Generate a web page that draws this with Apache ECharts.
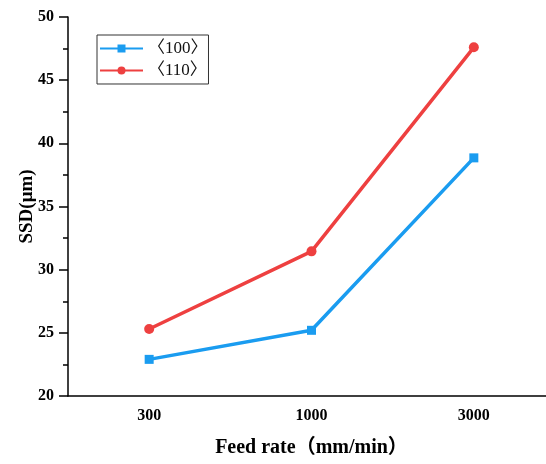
<!DOCTYPE html>
<html>
<head>
<meta charset="utf-8">
<script src="https://cdn.jsdelivr.net/npm/echarts@6/dist/echarts.min.js"></script>
<style>
  html, body { margin: 0; padding: 0; background: #fff; }
  #chart { width: 546px; height: 464px; }
</style>
</head>
<body>
<div id="chart"></div>
<script>
// 数据
const feedRates = ['300', '1000', '3000']
const ssd100 = [22.9, 25.2, 38.85]
const ssd110 = [25.3, 31.45, 47.6]
const seriesNames = ['〈100〉', '〈110〉']

const serif = "'Liberation Serif', 'Times New Roman', 'Noto Sans CJK SC', serif"

const chart = echarts.init(document.getElementById('chart'))
chart.setOption({
  animation: false,
  // 绘图区右侧超出画布一点, 与原图一致
  grid: { left: 68, width: 487, top: 17, bottom: 68, outerBoundsMode: 'none', containLabel: false },
  legend: {
    left: 97,
    top: 35,
    orient: 'vertical',
    itemWidth: 43,
    itemHeight: 10,
    itemGap: 5,
    padding: [5, 1, 5, 2],
    borderColor: '#333',
    borderWidth: 1,
    textStyle: { fontFamily: serif, fontSize: 17, color: '#111' },
    data: seriesNames
  },
  xAxis: {
    type: 'category',
    data: feedRates,
    name: 'Feed rate（mm/min）',
    nameLocation: 'middle',
    nameGap: 42,
    nameMoveOverlap: false,
    nameTextStyle: { fontFamily: serif, fontSize: 20, fontWeight: 'bold', color: '#000' },
    axisLine: { lineStyle: { color: '#000', width: 1.5 } },
    axisTick: { alignWithLabel: true, length: 6, lineStyle: { color: '#000', width: 1.5 } },
    axisLabel: { fontFamily: serif, fontSize: 16, fontWeight: 'bold', color: '#000', margin: 12 }
  },
  yAxis: {
    type: 'value',
    min: 20,
    max: 50,
    interval: 5,
    name: 'SSD(μm)',
    nameLocation: 'middle',
    nameGap: 31,
    nameMoveOverlap: false,
    nameTextStyle: { fontFamily: serif, fontSize: 19, fontWeight: 'bold', color: '#000' },
    axisLine: { show: true, lineStyle: { color: '#000', width: 1.5 } },
    axisTick: { show: true, length: 9, lineStyle: { color: '#000', width: 1.5 } },
    minorTick: { show: true, splitNumber: 2, length: 5, lineStyle: { color: '#000', width: 1.5 } },
    splitLine: { show: false },
    axisLabel: { fontFamily: serif, fontSize: 16, fontWeight: 'bold', color: '#000', margin: 14 }
  },
  series: [
    {
      name: seriesNames[0],
      type: 'line',
      data: ssd100,
      symbol: 'rect',
      symbolSize: 9,
      lineStyle: { width: 3.5, color: '#1a9cf0' },
      itemStyle: { color: '#1a9cf0' }
    },
    {
      name: seriesNames[1],
      type: 'line',
      data: ssd110,
      symbol: 'circle',
      symbolSize: 10,
      lineStyle: { width: 3.5, color: '#ee4040' },
      itemStyle: { color: '#ee4040' }
    }
  ]
})
</script>
</body>
</html>
